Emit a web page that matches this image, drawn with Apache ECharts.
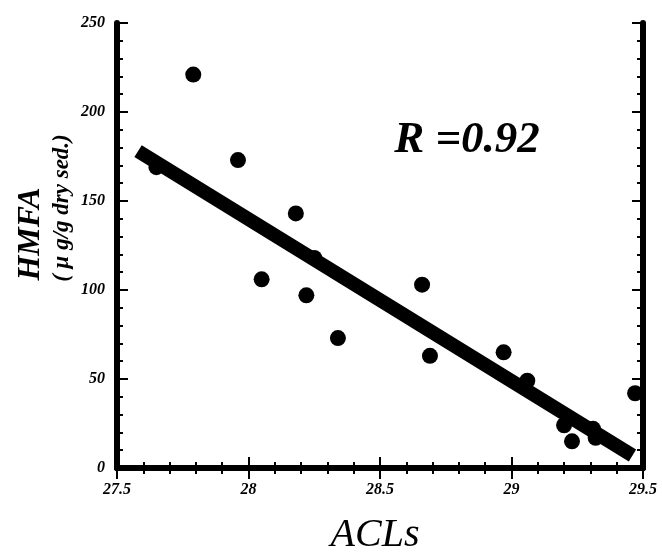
<!DOCTYPE html>
<html>
<head>
<meta charset="utf-8">
<script src="https://cdn.jsdelivr.net/npm/echarts@6/dist/echarts.min.js"></script>
<style>
  html, body { margin: 0; padding: 0; background: #fff; }
  #chart { width: 662px; height: 552px; }
</style>
</head>
<body>
<div id="chart"></div>
<script>
// 散点数据 (ACLs vs HMFA)
const acl  = [27.65, 27.79, 27.96, 28.05, 28.18, 28.22, 28.25, 28.34, 28.66, 28.69, 28.97, 29.06, 29.20, 29.23, 29.31, 29.32, 29.47];
const hmfa = [169, 221, 173, 106, 143, 97, 118, 73, 103, 63, 65, 49, 24, 15, 22, 17, 42];
// 回归直线端点
const fitX = [27.58, 29.46];
const fitY = [178, 7];

const serif = 'Liberation Serif, DejaVu Serif, serif';

document.addEventListener('DOMContentLoaded', function() {
    const chart = echarts.init(document.getElementById('chart'));

    const tickLabel = {
        fontFamily: serif,
        fontStyle: 'italic',
        fontWeight: 'bold',
        fontSize: 16,
        color: '#000'
    };
    const frameAxis = {
        axisLine: { lineStyle: { color: '#000', width: 6 } },
        axisTick: { inside: true, length: 11, lineStyle: { color: '#000', width: 2 } },
        minorTick: { show: true, splitNumber: 5, length: 6, lineStyle: { color: '#000', width: 2 } },
        splitLine: { show: false }
    };

    const option = {
        backgroundColor: '#fff',
        animation: false,
        grid: { left: 117, right: 19, top: 23, bottom: 84 },
        xAxis: [
            Object.assign({
                type: 'value', min: 27.5, max: 29.5, interval: 0.5,
                position: 'bottom',
                axisLabel: Object.assign({ margin: 14 }, tickLabel)
            }, frameAxis),
            Object.assign({
                type: 'value', min: 27.5, max: 29.5, interval: 0.5,
                position: 'top',
                axisLabel: { show: false }
            }, frameAxis)
        ],
        yAxis: [
            Object.assign({
                type: 'value', min: 0, max: 250, interval: 50,
                position: 'left',
                axisLabel: Object.assign({ margin: 12 }, tickLabel)
            }, frameAxis),
            Object.assign({
                type: 'value', min: 0, max: 250, interval: 50,
                position: 'right',
                axisLabel: { show: false }
            }, frameAxis)
        ],
        graphic: [
            {
                type: 'text', x: 467, y: 140,
                style: {
                    text: 'R =0.92', fill: '#000',
                    font: 'italic bold 45px ' + serif,
                    textAlign: 'center', textVerticalAlign: 'middle'
                }
            },
            {
                type: 'text', x: 375, y: 535,
                style: {
                    text: 'ACLs', fill: '#000',
                    font: 'italic 40px ' + serif,
                    textAlign: 'center', textVerticalAlign: 'middle'
                }
            },
            {
                type: 'text', x: 31, y: 234, rotation: Math.PI / 2,
                style: {
                    text: 'HMFA', fill: '#000',
                    font: 'italic bold 32px ' + serif,
                    textAlign: 'center', textVerticalAlign: 'middle'
                }
            },
            {
                type: 'text', x: 62, y: 208, rotation: Math.PI / 2,
                style: {
                    text: '( μ g/g dry sed.)', fill: '#000',
                    font: 'italic bold 23px ' + serif,
                    textAlign: 'center', textVerticalAlign: 'middle'
                }
            }
        ],
        series: [
            {
                type: 'line',
                data: fitX.map((x, i) => [x, fitY[i]]),
                symbol: 'none',
                lineStyle: { color: '#000', width: 14, cap: 'butt' },
                z: 2
            },
            {
                type: 'scatter',
                data: acl.map((x, i) => [x, hmfa[i]]),
                symbol: 'circle',
                symbolSize: 16,
                itemStyle: { color: '#000', opacity: 1 },
                z: 3
            }
        ]
    };
    chart.setOption(option);
});
</script>
</body>
</html>
